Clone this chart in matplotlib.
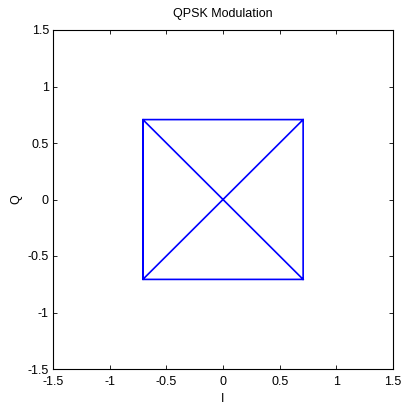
import matplotlib
matplotlib.use("Agg")
import matplotlib.pyplot as plt

plt.rcParams['font.family'] = ['Liberation Sans', 'DejaVu Sans']

# QPSK symbol sequence (in-phase / quadrature), plotted as a connected trajectory
i_vals = [0.7071, -0.7071, -0.7071, 0.7071, 0.7071, -0.7071, -0.7071, 0.7071]
q_vals = [0.7071, 0.7071, -0.7071, -0.7071, 0.7071, -0.7071, 0.7071, -0.7071]

ticks = [-1.5, -1, -0.5, 0, 0.5, 1, 1.5]
tick_labels = ['-1.5', '-1', '-0.5', '0', '0.5', '1', '1.5']

fig = plt.figure(figsize=(4.04, 4.08), dpi=100)
ax = fig.add_axes([53 / 404, 1 - 369 / 408, 340 / 404, 339 / 408])

ax.plot(i_vals, q_vals, color='#0000ff', linewidth=1.2)

ax.set_xlim(-1.5, 1.5)
ax.set_ylim(-1.5, 1.5)
ax.set_xticks(ticks)
ax.set_xticklabels(tick_labels)
ax.set_yticks(ticks)
ax.set_yticklabels(tick_labels)
ax.tick_params(direction='in', top=True, right=True, length=3, width=0.6,
               labelsize=9)
ax.tick_params(axis='x', pad=5)
ax.tick_params(axis='y', pad=3)
for s in ax.spines.values():
    s.set_linewidth(0.8)

ax.set_title('QPSK Modulation', fontsize=9, pad=9)
ax.set_xlabel('I', fontsize=9, labelpad=4)
ax.set_ylabel('Q', fontsize=9, labelpad=4)

fig.savefig('out.png', dpi=100)
